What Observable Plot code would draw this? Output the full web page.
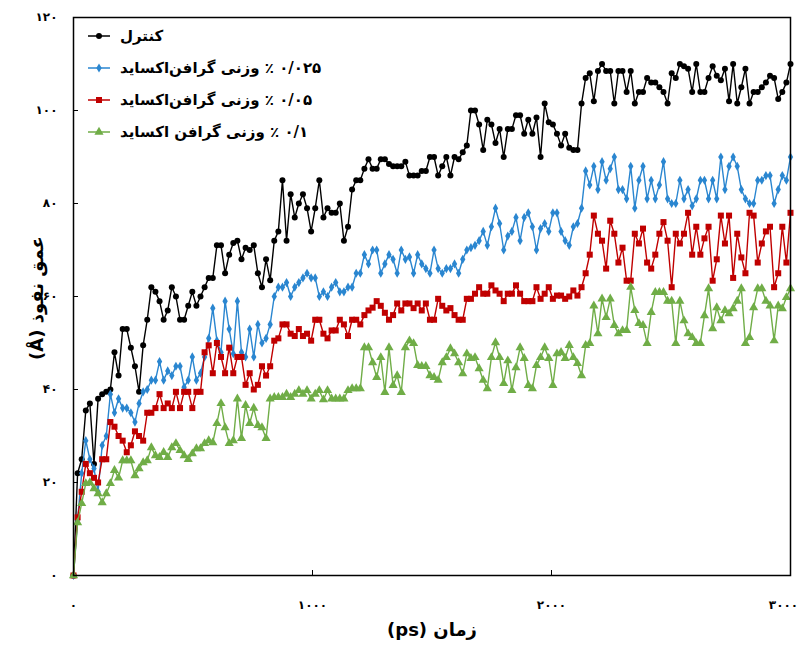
<!DOCTYPE html>
<html>
<head>
<meta charset="utf-8">
<script src="https://cdn.jsdelivr.net/npm/d3@7"></script>
<script src="https://cdn.jsdelivr.net/npm/@observablehq/plot@0.6"></script>
<style>
  html, body { margin: 0; padding: 0; background: #fff; }
  #wrap { position: relative; width: 801px; height: 648px; font-family: "DejaVu Sans", sans-serif; }
  #legend { position: absolute; left: 88px; top: 20px; font-weight: bold; font-size: 15px; color: #000; }
  .row { display: flex; align-items: center; height: 32px; }
  .row span { margin-left: 10px; white-space: nowrap; }
  #ytitle { position: absolute; left: 36px; top: 298px; transform: translate(-50%, -50%) rotate(-90deg);
            white-space: nowrap; font-weight: bold; font-size: 18px; color: #000; }
</style>
</head>
<body>
<div id="wrap">
  <div id="chart"></div>
  <div id="legend"></div>
  <div id="ytitle" dir="rtl"></div>
</div>
<script>
// ---- data ----
const seriesNames = [
  "کنترل",
  "۰/۰۲۵ ٪ وزنی گرافن\u200cاکساید",
  "۰/۰۵ ٪ وزنی گرافن\u200cاکساید",
  "۰/۱ ٪ وزنی گرافن اکساید"
];
const seriesColors = ["#000000", "#2a86d0", "#c00000", "#70ad47"];
const seriesSymbols = ["circle", "diamond", "square", "triangle"];
const seriesRadius = [3, 2.8, 3.4, 3.4];

const xTicks = [0, 1000, 2000, 3000];
const yTicks = [0, 20, 40, 60, 80, 100, 120];
const tMax = 3000;

const control = [0,22,25,35.5,37,24,38,39,39.5,40,
48,43,53,53,49,45,39.5,49.5,55,62,
61,59,55,57,62,60,55,55,58,61,
58,60,62,64,64,71,71,65,69,71.5,
72,68,70.5,70,71,65,62,68,63.5,72,
74,85,72,82,77,80,82,79,74,79,
85,77,79,78,78,80,72,75,83,85,
85,87.5,89.5,87.5,87.5,89.5,89.5,88.5,88,88,
88,89,86,86,86,87,87,90,90,86,
88,90,86,90,89.5,91,92.5,100,100,97,
91.5,98,97,93,96,90,96,96,99,99,
95,98,95,98.5,90,101.5,97.5,97,95,92.5,
95,92,91.5,91.5,101.5,107,108,102,108.5,110,
108.5,108.5,101.5,108.5,108.5,104,108.5,101.5,104,104,
107,106,106,105,104,101.5,108,107,110,109.5,
109,104,110,104,104,107,109.5,107.5,106.5,109,
102,110,101.5,105,109,101.5,104,104,105,106,
107.5,107,102.5,104,106,110];

const go025 = [0,12,22,29,25,23,18,28,30,39,
35,38,36,36,35,33,37,39.5,40,42,
42,46,42,44,43,45,45,40.5,42,47,
42,43.5,47,51,57.5,50.5,48,59,53,47.7,
59,48,47,53,47,54,50,51,54,60,
62,62,63,60,62,63,64,65,64,64,
60,61,60,62,63,61,61,62,62,65,
65,69,67,70,70,65,67,69,68,65,
70,68,68.5,65,69,67,66,65,70,66,
65,66,66,67,65,68,70,70.5,71,72,
74,71,75,79,75.7,70,73,74,77,72,
77,78,75,70,74.6,75.7,74,78,78,74,
72,71,75,75.7,79,87,84,88,83,89,
85,87.5,90,83,83,81,88,79,85,88,
81,85,81,84,89,81,80,80,85,81,
83,79.5,81,85,85,81,85,81,90,83,
88,90,88,83,81,80,80,85,85,86,
86,80,83,86,85,90];

const go05 = [0,12.5,18,24,22,21,20,25,25,33,
32,30,29,26.5,28,31,30,29,35,35,
36,39,36,37,36,39.5,36,39.5,39.5,36,
39.5,39.5,48,49.5,43.5,50,47,43.5,49,43.5,
47,47,41,43.5,40,41,45,43,45,50.5,
51,54,54,52,51.5,53,51.5,52,50.5,55,
55,52,51,52.7,52.7,55,54,51.5,55,55,
54,56,57,57.6,59,58,56.5,55,56,58.5,
57,58.5,58.5,57.5,58.5,57,58.5,55,55,59.5,
58,57,57.5,56,55,55,59.5,59.5,60.6,62,
60.6,60.6,62.4,61.3,60.6,59,60.6,60.6,62.4,60.6,
59,59,59,62,59.5,60.6,62,59.5,60.2,60.2,
59.5,60,61.3,60.2,62,65,69,77.4,73.5,72,
66,76.3,73.5,67.3,70.5,63.4,63.4,73.5,71.4,74.6,
67.3,66,69,73.5,76,72,62,73.5,71.4,73.5,
78,69,75,69,72.5,75,63.4,68,77.4,71.4,
77.4,64,73.5,68.4,65,78,77.4,67.3,71.4,74,
75,62,65,75,67.3,78];

const go1 = [0,11.4,15.5,19.8,20,18.7,17.6,15.7,17.6,19.8,
22.6,21,24.7,24.7,24.7,21.5,23,24.3,24.7,27.5,
25.8,25.4,26.5,25.4,27.5,28.4,26.9,25.8,25,26.2,
27.3,27.3,28.4,29,28.6,32.7,37,31.8,28.4,29,
38,29.5,36.6,32.7,36,32.3,31.8,29.5,38,38.3,
38.3,38.3,39,38.3,39,39.8,39,39.8,38,39,
39.8,37.8,39.8,38,38,38,38,39.8,40.2,40.2,
40.2,49,49,45.8,42.6,46.9,39.4,49,40.9,43,
39.4,49,50.5,49.9,45.2,45,45,43,42.6,42,
45.8,46.9,48.8,47.7,45.8,43.4,47.7,46.7,46.9,44.5,
42,40.2,46.9,50.1,46.9,41.3,46.2,39.8,44.7,49,
46.7,40.9,40.2,45.2,46.9,49,46.7,40.9,47.7,48,
46.7,49.5,46.9,45.6,43,49.5,49.9,58,52,59.5,
55.5,59.5,53.8,52,52.7,52.7,62,57,54.2,53.8,
49.9,56.6,60.9,60.9,60.9,59,59,49.9,59,54.8,
52,51.2,49.9,49.9,55.9,61.7,53.1,57.6,54.8,57,
56.3,57.4,59,61.7,49.9,51.2,57.6,61.7,61.7,59,
58,50.5,58,57.4,59.8,61.7];

const seriesValues = [control, go025, go05, go1];

const xTitle = "زمان (ps)";
const yTitle = "عمق نفوذ (Å)";

// ---- build table ----
const rows = [];
seriesValues.forEach((vals, s) => {
  const n = vals.length;
  vals.forEach((v, i) => rows.push({s, t: i * tMax / (n - 1), v}));
});

const fa = d => String(d).replace(/\d/g, c => "۰۱۲۳۴۵۶۷۸۹"[+c]);
const rtl = s => "\u202B" + s + "\u202C";

const marks = [
  // inward tick marks
  Plot.axisX({ticks: xTicks, tickFormat: () => "", tickSize: -5, label: null}),
  Plot.axisY({ticks: yTicks, tickFormat: () => "", tickSize: -5, label: null}),
  // tick labels
  Plot.axisX({ticks: xTicks.slice(0, -1), tickFormat: fa, tickSize: 0, tickPadding: 25, label: null, fontSize: 12}),
  Plot.axisX({ticks: xTicks.slice(-1), tickFormat: fa, tickSize: 0, tickPadding: 25, label: null, fontSize: 12, dx: -7}),
  Plot.axisY({ticks: yTicks, tickFormat: fa, tickSize: 0, tickPadding: 16, label: null, fontSize: 12})
];
seriesValues.forEach((_, s) => {
  const d = rows.filter(r => r.s === s);
  marks.push(Plot.line(d, {x: "t", y: "v", stroke: seriesColors[s], strokeWidth: 1.4}));
  marks.push(Plot.dot(d, {x: "t", y: "v", fill: seriesColors[s], symbol: () => seriesSymbols[s], r: seriesRadius[s], stroke: "none"}));
});
marks.push(Plot.frame({stroke: "#000", strokeWidth: 1.5}));
marks.push(Plot.text([xTitle], {text: d => rtl(d), frameAnchor: "bottom", dy: 60, fontSize: 18, fontWeight: "bold"}));

const chart = Plot.plot({
  width: 801,
  height: 648,
  marginLeft: 73,
  marginRight: 11,
  marginTop: 17,
  marginBottom: 73,
  style: {fontFamily: "'DejaVu Sans', sans-serif", fontWeight: "bold", color: "#000", background: "#fff"},
  x: {domain: [0, tMax]},
  y: {domain: [0, 120]},
  symbol: {type: "identity"},
  marks
});
document.getElementById("chart").appendChild(chart);
document.getElementById("ytitle").textContent = yTitle;

// ---- legend ----
const legend = d3.select("#legend");
seriesNames.forEach((name, s) => {
  const row = legend.append("div").attr("class", "row");
  const sv = row.append("svg").attr("width", 22).attr("height", 12);
  sv.append("line").attr("x1", 0).attr("x2", 22).attr("y1", 6).attr("y2", 6)
    .attr("stroke", seriesColors[s]).attr("stroke-width", 1.5);
  const sym = {circle: d3.symbolCircle, diamond: d3.symbolDiamond, square: d3.symbolSquare, triangle: d3.symbolTriangle}[seriesSymbols[s]];
  sv.append("path").attr("transform", "translate(11,6)")
    .attr("d", d3.symbol(sym, Math.PI * seriesRadius[s] * seriesRadius[s])())
    .attr("fill", seriesColors[s]);
  row.append("span").attr("dir", "rtl").text(name);
});
</script>
</body>
</html>
